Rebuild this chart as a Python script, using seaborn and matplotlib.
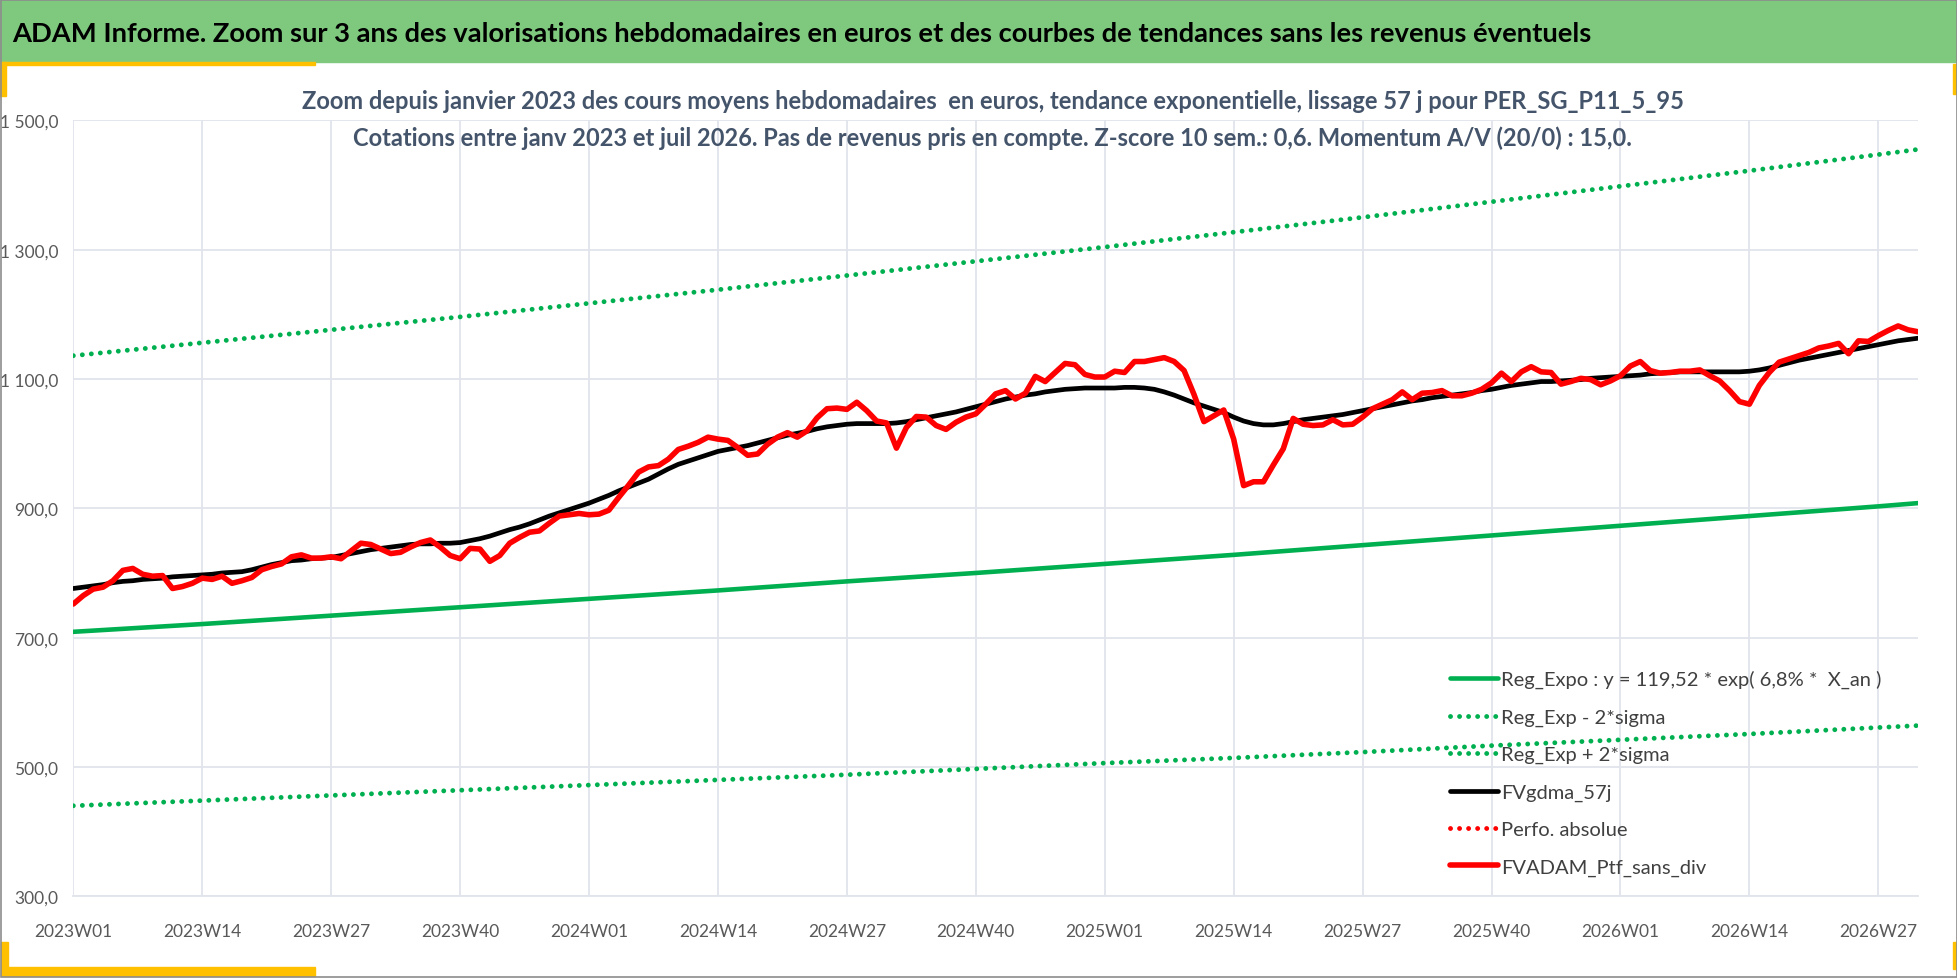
import datetime
import matplotlib
matplotlib.use("Agg")
import matplotlib.pyplot as plt
from matplotlib.patches import Rectangle
from matplotlib.lines import Line2D
import pandas as pd
import seaborn as sns

# Week categories (ISO weeks) from 2023W01 to 2026W31
weeks = []
d = datetime.date.fromisocalendar(2023, 1, 1)
while len(weeks) < 187:
    y, w, _ = d.isocalendar()
    weeks.append(f"{y}W{w:02d}")
    d += datetime.timedelta(days=7)

# FVADAM_Ptf_sans_div (weekly, red)
ptf_sans_div = [
    752, 765, 775, 778, 788, 804, 807, 798, 795, 796, 776, 779, 784, 792, 790, 795,
    784, 788, 793, 805, 810, 814, 825, 828, 823, 823, 825, 822, 834, 846, 844, 837,
    830, 832, 840, 847, 851, 840, 827, 822, 838, 837, 818, 827, 846, 855, 863, 865,
    877, 888, 890, 892, 890, 891, 897, 917, 936, 956, 964, 966, 976, 991, 996, 1002,
    1010, 1007, 1005, 994, 982, 984, 999, 1010, 1017, 1010, 1020, 1040, 1054, 1055,
    1053, 1064, 1051, 1035, 1032, 993, 1025, 1042, 1041, 1028, 1022, 1033, 1041, 1046,
    1061, 1077, 1082, 1069, 1078, 1104, 1096, 1110, 1124, 1122, 1107, 1103, 1103, 1112,
    1110, 1127, 1127, 1130, 1133, 1127, 1113, 1076, 1034, 1043, 1052, 1007, 935, 941,
    941, 967, 992, 1039, 1030, 1028, 1029, 1037, 1029, 1030, 1041, 1054, 1061, 1068,
    1080, 1068, 1078, 1079, 1082, 1074, 1074, 1078, 1084, 1094, 1109, 1096, 1111, 1119,
    1111, 1110, 1092, 1096, 1101, 1099, 1091, 1097, 1105, 1120, 1127, 1113, 1109, 1110,
    1112, 1112, 1114, 1105, 1097, 1082, 1065, 1061, 1090, 1110, 1126, 1131, 1136, 1141,
    1148, 1151, 1155, 1139, 1159, 1158, 1167, 1175, 1182, 1176, 1173,
]

# FVgdma_57j (weekly, black)
gdma_57j = [
    776, 778, 780, 782, 785, 787, 788, 790, 791, 792, 794, 795, 796, 797, 798, 800,
    801, 802, 805, 809, 813, 816, 819, 820, 822, 823, 824, 827, 830, 833, 836, 838,
    840, 842, 844, 845, 845, 846, 846, 847, 850, 853, 857, 862, 867, 871, 876, 882,
    888, 893, 898, 903, 908, 914, 920, 927, 933, 939, 945, 953, 961, 968, 973, 978,
    983, 988, 991, 994, 997, 1001, 1005, 1009, 1013, 1016, 1019, 1023, 1026, 1028,
    1030, 1031, 1031, 1031, 1031, 1032, 1034, 1037, 1040, 1043, 1046, 1049, 1053, 1057,
    1061, 1065, 1069, 1072, 1075, 1077, 1080, 1082, 1084, 1085, 1086, 1086, 1086, 1086,
    1087, 1087, 1086, 1084, 1080, 1075, 1069, 1063, 1058, 1053, 1048, 1041, 1035, 1031,
    1029, 1029, 1031, 1034, 1037, 1039, 1041, 1043, 1045, 1048, 1051, 1054, 1057, 1060,
    1063, 1066, 1068, 1071, 1073, 1075, 1077, 1079, 1082, 1084, 1087, 1090, 1092, 1094,
    1096, 1096, 1097, 1098, 1099, 1101, 1102, 1103, 1104, 1105, 1106, 1108, 1109, 1110,
    1111, 1111, 1111, 1111, 1111, 1111, 1111, 1112, 1114, 1117, 1121, 1125, 1129, 1132,
    1135, 1138, 1141, 1144, 1147, 1150, 1153, 1156, 1159, 1161, 1163,
]

# Exponential trend and +/- 2 sigma bands, read at the labelled weeks
trend_weeks = ["2023W01", "2023W14", "2023W27", "2023W40", "2024W01", "2024W14",
               "2024W27", "2024W40", "2025W01", "2025W14", "2025W27", "2025W40",
               "2026W01", "2026W14", "2026W27", "2026W31"]
reg_expo = [709, 721, 734, 747, 760, 773, 787, 800, 814, 828, 843, 858, 873, 888, 903, 908]
reg_plus_2sigma = [1136, 1156, 1176, 1196, 1217, 1238, 1260, 1282, 1304, 1327, 1350,
                   1374, 1398, 1422, 1447, 1455]
reg_minus_2sigma = [440, 448, 456, 464, 472, 480, 488, 497, 506, 514, 523, 533, 542,
                    551, 561, 564]

tick_labels = weeks[::13]
y_ticks = [300, 500, 700, 900, 1100, 1300, 1500]

title = ("ADAM Informe. Zoom sur 3 ans des valorisations hebdomadaires en euros "
         "et des courbes de tendances sans les revenus éventuels")
subtitle1 = ("Zoom depuis janvier 2023 des cours moyens hebdomadaires  en euros, "
             "tendance exponentielle, lissage 57 j pour PER_SG_P11_5_95")
subtitle2 = ("Cotations entre janv 2023 et juil 2026. Pas de revenus pris en compte. "
             "Z-score 10 sem.: 0,6. Momentum A/V (20/0) : 15,0.")

sns.set_style("white")
plt.rcParams["font.family"] = ["Lato", "DejaVu Sans"]

W, H = 1958, 979
fig = plt.figure(figsize=(W / 100, H / 100), dpi=100)

# header band and decorations
green = "#7FC97F"
yellow = "#FFC000"
fig.patches.append(Rectangle((0, 1 - 63 / H), 1, 63 / H, transform=fig.transFigure,
                             color=green, zorder=0))
for (x0, y0, x1, y1) in [(0, 63, 315, 66), (0, 63, 6, 97), (1953, 65, 1958, 95),
                         (7, 968, 315, 977), (1, 943, 8, 977), (1953, 943, 1958, 970)]:
    fig.patches.append(Rectangle((x0 / W, 1 - y1 / H), (x1 - x0) / W, (y1 - y0) / H,
                                 transform=fig.transFigure, color=yellow, zorder=1))
fig.patches.append(Rectangle((0.0005, 0.001), 0.999, 0.998, transform=fig.transFigure,
                             fill=False, edgecolor="#8C8C8C", linewidth=1.2, zorder=2))
fig.text(12 / W, 1 - 34 / H, title, fontsize=19.7, fontweight="bold", color="black",
         ha="left", va="center")

ax = fig.add_axes([73.3 / W, 1 - 897.3 / H, (1918 - 73.3) / W, (897.3 - 121.3) / H])

pos = {w: i for i, w in enumerate(weeks)}
df = pd.DataFrame({"x": range(len(weeks)), "ptf": ptf_sans_div, "gdma": gdma_57j})
tr = pd.DataFrame({"x": [pos[w] for w in trend_weeks], "reg": reg_expo,
                   "plus": reg_plus_2sigma, "minus": reg_minus_2sigma})

dot = (0, (0.01, 1.85))
g_green = "#00B050"
sns.lineplot(data=tr, x="x", y="reg", ax=ax, color=g_green, linewidth=3.3,
             label="Reg_Expo : y = 119,52 * exp( 6,8% *  X_an )")
sns.lineplot(data=tr, x="x", y="minus", ax=ax, color=g_green, linewidth=3.5,
             linestyle=dot, dash_capstyle="round", label="Reg_Exp - 2*sigma")
sns.lineplot(data=tr, x="x", y="plus", ax=ax, color=g_green, linewidth=3.5,
             linestyle=dot, dash_capstyle="round", label="Reg_Exp + 2*sigma")
sns.lineplot(data=df, x="x", y="gdma", ax=ax, color="black", linewidth=3.4,
             label="FVgdma_57j")
sns.lineplot(data=df, x="x", y="ptf", ax=ax, color="#FF0000", linewidth=4.0,
             label="FVADAM_Ptf_sans_div", zorder=5)

ax.set_xlim(0, len(weeks) - 1)
ax.set_ylim(300, 1500)
ax.set_xlabel("")
ax.set_ylabel("")

grid_c = "#E1E4EA"
ax.set_xticks([pos[w] for w in tick_labels])
ax.set_xticklabels(tick_labels)
ax.set_xticks([pos[w] + 6.5 for w in tick_labels if pos[w] + 6.5 < len(weeks)], minor=True)
ax.set_yticks(y_ticks)
ax.set_yticklabels([f"{v:,.1f}".replace(",", " ").replace(".", ",") for v in y_ticks])
ax.grid(True, which="major", color=grid_c, linewidth=1.3)
ax.tick_params(axis="x", which="major", length=0, pad=19, labelsize=12.5,
               labelcolor="#595959")
ax.tick_params(axis="x", which="minor", direction="in", length=5, width=1.3,
               color=grid_c)
ax.tick_params(axis="y", length=0, pad=11, labelsize=12.5, labelcolor="#595959")
for s in ["top", "right", "left"]:
    ax.spines[s].set_visible(False)
ax.spines["bottom"].set_color(grid_c)
ax.spines["bottom"].set_linewidth(1.3)

fig.text(0.507, 1 - 101.7 / H, subtitle1, fontsize=17, fontweight="bold",
         color="#44546A", ha="center", va="center")
fig.text(0.507, 1 - 138 / H, subtitle2, fontsize=17, fontweight="bold",
         color="#44546A", ha="center", va="center")

handles, labels = ax.get_legend_handles_labels()
perfo = Line2D([], [], color="#FF0000", linewidth=3.5, linestyle=dot,
               dash_capstyle="round")
order = ["Reg_Expo : y = 119,52 * exp( 6,8% *  X_an )", "Reg_Exp - 2*sigma",
         "Reg_Exp + 2*sigma", "FVgdma_57j"]
hmap = dict(zip(labels, handles))
leg_h = [hmap[l] for l in order] + [perfo, hmap["FVADAM_Ptf_sans_div"]]
leg_l = order + ["Perfo. absolue", "FVADAM_Ptf_sans_div"]
ax.legend(leg_h, leg_l, loc="upper left", bbox_to_anchor=(1450 / W, 1 - 671 / H),
          bbox_transform=fig.transFigure, frameon=False, fontsize=14.5,
          handlelength=2.4, handletextpad=0.12, labelspacing=1.0, borderpad=0,
          borderaxespad=0, labelcolor="#404040")

fig.savefig("out.png", dpi=100)
